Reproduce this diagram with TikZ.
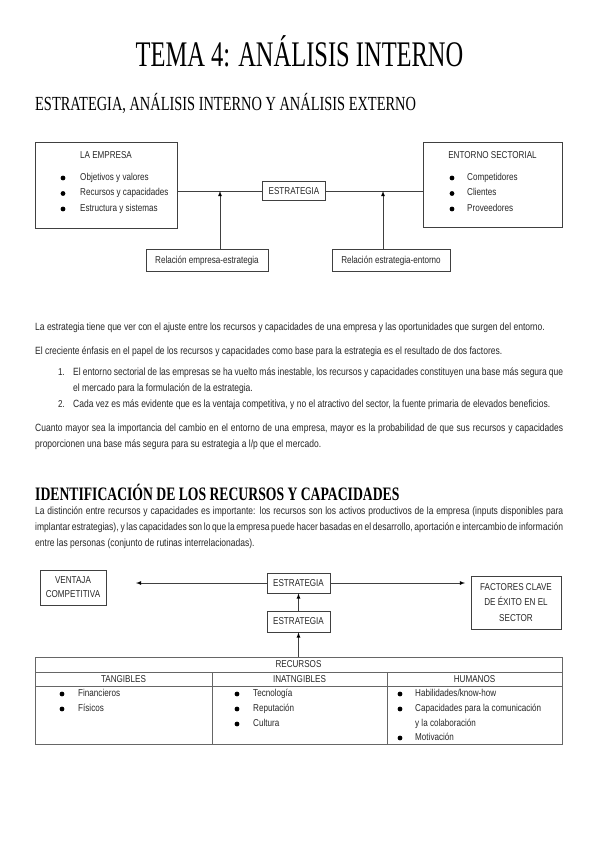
\documentclass[tikz,border=0pt]{standalone}
\usepackage{fontspec}
\newfontfamily\handfont[FakeStretch=0.81]{Liberation Sans}
\newfontfamily\titlefont[FakeStretch=0.68]{Liberation Serif}
\newfontfamily\headfont[FakeStretch=0.72]{Liberation Serif}
\hyphenpenalty=10000
\exhyphenpenalty=10000
\tikzset{
	caja/.style={
		draw=black!75, line width=0.8pt, inner sep=0pt, align=center, text=black!85,
		font={\handfont\fontsize{10}{14}\selectfont}
	},
	celda/.style={draw=black!60, line width=0.9pt, inner sep=0pt, text=black!85,
		font={\handfont\fontsize{10}{14}\selectfont}},
	texto/.style={inner sep=0pt, text=black!85, font={\handfont\fontsize{10}{16}\selectfont}},
	parrafo/.style={texto, anchor=base west, text width=528pt, align=justify,
		font={\handfont\fontsize{10.5}{16}\selectfont}},
	punto/.style={fill=black, circle, inner sep=1.7pt},
	linea/.style={draw=black!75, line width=0.8pt},
	>=latex,
}
\def\filaT{15}

\begin{document}
\begin{tikzpicture}[x=1pt, y=-1pt]
\useasboundingbox (0,0) rectangle (599,848);

\node[anchor=base, inner sep=0pt, font={\titlefont\fontsize{36}{36}\selectfont}] (tema) at (299.5,67) {TEMA 4: ANÁLISIS INTERNO};
\node[anchor=base west, inner sep=0pt, font={\headfont\fontsize{20}{20}\selectfont}] (sec1) at (35,111) {ESTRATEGIA, ANÁLISIS INTERNO Y ANÁLISIS EXTERNO};

% esquema empresa - estrategia - entorno
\node[caja, minimum width=142pt, minimum height=86pt] (empresa) at (106,185) {};
\node[texto] (empresa-t) at (106,155) {LA EMPRESA};
\foreach \t [count=\i] in {Objetivos y valores, Recursos y capacidades, Estructura y sistemas} {
	\node[punto] (emp-p\i) at (63,162.5+15.5*\i) {};
	\node[texto, anchor=mid west] (emp-\i) at (80,162.5+15.5*\i) {\t};
}
\node[caja, minimum width=139pt, minimum height=85pt] (entorno) at (492.5,184.5) {};
\node[texto] (entorno-t) at (492.5,155) {ENTORNO SECTORIAL};
\foreach \t [count=\i] in {Competidores, Clientes, Proveedores} {
	\node[punto] (ent-p\i) at (452,162.5+15.5*\i) {};
	\node[texto, anchor=mid west] (ent-\i) at (467,162.5+15.5*\i) {\t};
}
\node[caja, minimum width=63pt, minimum height=19pt] (estr) at (294,191) {ESTRATEGIA};
\node[caja, minimum width=122pt, minimum height=22pt] (rel1) at (207,260.5) {Relación empresa-estrategia};
\node[caja, minimum width=118pt, minimum height=22pt] (rel2) at (391,260.5) {Relación estrategia-entorno};
\coordinate (j1) at (220,191);
\coordinate (j2) at (383,191);
\path[linea] (empresa.east |- estr.west) edge (estr.west);
\path[linea] (estr.east) edge (entorno.west |- estr.east);
\path[linea] (rel1.north -| j1) edge[->] (j1);
\path[linea] (rel2.north -| j2) edge[->] (j2);

\node[parrafo] (p1) at (35,330) {La estrategia tiene que ver con el ajuste entre los recursos y capacidades de una empresa y las oportunidades que surgen del entorno.};
\node[parrafo] (p2) at (35,354) {El creciente énfasis en el papel de los recursos y capacidades como base para la estrategia es el resultado de dos factores.};
\node[texto, anchor=base west] (n1) at (58,375) {1.};
\node[parrafo, text width=490pt] (item1) at (73,375) {El entorno sectorial de las empresas se ha vuelto más inestable, los recursos y capacidades constituyen una base más segura que\linebreak el mercado para la formulación de la estrategia.};
\node[texto, anchor=base west] (n2) at (58,407) {2.};
\node[parrafo, text width=490pt] (item2) at (73,407) {Cada vez es más evidente que es la ventaja competitiva, y no el atractivo del sector, la fuente primaria de elevados beneficios.};
\node[parrafo] (p3) at (35,431) {Cuanto mayor sea la importancia del cambio en el entorno de una empresa, mayor es la probabilidad de que sus recursos y capacidades\linebreak proporcionen una base más segura para su estrategia a l/p que el mercado.};

\node[anchor=base west, inner sep=0pt, font={\headfont\bfseries\fontsize{19}{19}\selectfont}] (sec2) at (35,500) {IDENTIFICACIÓN DE LOS RECURSOS Y CAPACIDADES};
\node[parrafo] (p4) at (35,514) {La distinción entre recursos y capacidades es importante: los recursos son los activos productivos de la empresa (inputs disponibles para\linebreak implantar estrategias), y las capacidades son lo que la empresa puede hacer basadas en el desarrollo, aportación e intercambio de información\linebreak entre las personas (conjunto de rutinas interrelacionadas).};

% esquema recursos - estrategia
\node[caja, minimum width=66pt, minimum height=35pt] (ventaja) at (73,587.5) {VENTAJA\\COMPETITIVA};
\node[caja, minimum width=63pt, minimum height=20pt] (estrA) at (298.5,583) {ESTRATEGIA};
\node[caja, minimum width=63pt, minimum height=21pt] (estrB) at (298.5,621.5) {ESTRATEGIA};
\node[caja, minimum width=90pt, minimum height=53pt, font={\handfont\fontsize{10}{15.5}\selectfont}] (factores) at (516,602.5) {FACTORES CLAVE\\DE ÉXITO EN EL\\SECTOR};
\coordinate (vtip) at (136,583);
\coordinate (ftip) at (465,583);
\path[linea] (estrA.west) edge[->] (vtip);
\path[linea] (estrA.east) edge[->] (ftip);
\path[linea] (estrB.north) edge[->] (estrA.south);

\node[celda, minimum width=527pt, minimum height=15pt] (recursos) at (298.5,664.5) {RECURSOS};
\node[celda, minimum width=177pt, minimum height=14pt] (tang) at (123.5,679) {TANGIBLES};
\node[celda, minimum width=175pt, minimum height=14pt] (intang) at (299.5,679) {INATNGIBLES};
\node[celda, minimum width=175pt, minimum height=14pt] (hum) at (474.5,679) {HUMANOS};
\node[celda, minimum width=177pt, minimum height=58pt] (tang-c) at (123.5,715) {};
\node[celda, minimum width=175pt, minimum height=58pt] (intang-c) at (299.5,715) {};
\node[celda, minimum width=175pt, minimum height=58pt] (hum-c) at (474.5,715) {};
\path[linea] (recursos.north) edge[->] (estrB.south);

\foreach \t [count=\i] in {Financieros, Físicos} {
	\node[punto] (tang-p\i) at (62,679+\filaT*\i) {};
	\node[texto, anchor=mid west] (tang-\i) at (78,679+\filaT*\i) {\t};
}
\foreach \t [count=\i] in {Tecnología, Reputación, Cultura} {
	\node[punto] (intang-p\i) at (237,679+\filaT*\i) {};
	\node[texto, anchor=mid west] (intang-\i) at (253,679+\filaT*\i) {\t};
}
\node[punto] (hum-p1) at (400,694) {};
\node[texto, anchor=mid west] (hum-1) at (415,694) {Habilidades/know-how};
\node[punto] (hum-p2) at (400,709) {};
\node[texto, anchor=mid west] (hum-2) at (415,709) {Capacidades para la comunicación};
\node[texto, anchor=mid west] (hum-2b) at (415,724) {y la colaboración};
\node[punto] (hum-p3) at (400,738) {};
\node[texto, anchor=mid west] (hum-3) at (415,738) {Motivación};
\end{tikzpicture}
\end{document}
